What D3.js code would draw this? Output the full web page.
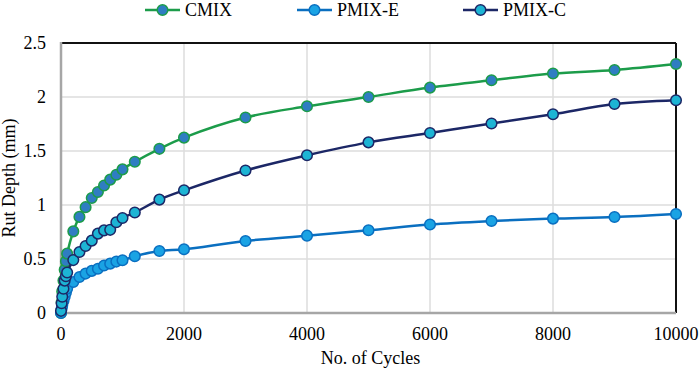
<!DOCTYPE html>
<html>
<head>
<meta charset="utf-8">
<script src="https://cdn.jsdelivr.net/npm/d3@7"></script>
<style>
  body { margin: 0; background: #fff; }
  text { font-family: "Liberation Serif", "Times New Roman", serif; fill: #000; }
</style>
</head>
<body>
<svg width="699" height="372"></svg>
<script>
// cycles at which rut depth was read
var cycles = [0, 10, 20, 40, 60, 80, 100, 200, 300, 400, 500, 600, 700, 800, 900, 1000,
              1200, 1600, 2000, 3000, 4000, 5000, 6000, 7000, 8000, 9000, 10000];

var cmix  = [0, 0.1, 0.2, 0.3, 0.4, 0.48, 0.55, 0.756, 0.89, 0.98, 1.065, 1.12, 1.18, 1.235, 1.28, 1.33,
             1.40, 1.52, 1.624, 1.81, 1.914, 2.0, 2.087, 2.155, 2.217, 2.25, 2.305];
var pmixE = [0, 0.04, 0.07, 0.11, 0.15, 0.19, 0.226, 0.287, 0.333, 0.365, 0.39, 0.41, 0.44, 0.457, 0.476, 0.488,
             0.525, 0.574, 0.59, 0.667, 0.716, 0.766, 0.82, 0.852, 0.874, 0.889, 0.917];
var pmixC = [0.02, 0.09, 0.15, 0.225, 0.30, 0.34, 0.375, 0.49, 0.565, 0.62, 0.67, 0.735, 0.765, 0.77, 0.84, 0.88,
             0.93, 1.05, 1.136, 1.32, 1.46, 1.58, 1.667, 1.754, 1.84, 1.935, 1.97];

var xTicks = [0, 2000, 4000, 6000, 8000, 10000];
var yTicks = [0, 0.5, 1, 1.5, 2, 2.5];

var series = [
  { name: "CMIX",   values: cmix,  line: "#1c9c4a", fill: "#2f7dc2" },
  { name: "PMIX-E", values: pmixE, line: "#0a6fc0", fill: "#1aa3e4" },
  { name: "PMIX-C", values: pmixC, line: "#1c2766", fill: "#1db4d4" }
];

var svg = d3.select("svg"),
    pLeft = 61, pRight = 676, pTop = 43, pBottom = 313;

var x = d3.scaleLinear().domain([0, 10000]).range([pLeft, pRight]);
var y = d3.scaleLinear().domain([0, 2.5]).range([pBottom, pTop]);

var g = svg.append("g");

// grid
g.selectAll(".hgrid").data(yTicks.slice(1, -1)).enter().append("line")
  .attr("x1", pLeft).attr("x2", pRight)
  .attr("y1", d => y(d)).attr("y2", d => y(d))
  .attr("stroke", "#dcdcdc").attr("stroke-width", 1.5);
g.selectAll(".vgrid").data(xTicks.slice(1, -1)).enter().append("line")
  .attr("y1", pTop).attr("y2", pBottom)
  .attr("x1", d => x(d)).attr("x2", d => x(d))
  .attr("stroke", "#dcdcdc").attr("stroke-width", 1.5);

// frame: black top/right, gray axes left/bottom
g.append("line").attr("x1", pLeft).attr("x2", pRight).attr("y1", pTop).attr("y2", pTop)
  .attr("stroke", "#111").attr("stroke-width", 2);
g.append("line").attr("x1", pRight).attr("x2", pRight).attr("y1", pTop).attr("y2", pBottom)
  .attr("stroke", "#111").attr("stroke-width", 2);
g.append("line").attr("x1", pLeft).attr("x2", pLeft).attr("y1", pTop - 1).attr("y2", pBottom)
  .attr("stroke", "#a6a6a6").attr("stroke-width", 2.5);
g.append("line").attr("x1", pLeft).attr("x2", pRight).attr("y1", pBottom).attr("y2", pBottom)
  .attr("stroke", "#a6a6a6").attr("stroke-width", 2.5);

// tick labels
g.selectAll(".ylab").data(yTicks).enter().append("text")
  .attr("x", 46).attr("y", d => y(d)).attr("dy", "0.35em")
  .attr("text-anchor", "end").attr("font-size", 18)
  .text(d => d);
g.selectAll(".xlab").data(xTicks).enter().append("text")
  .attr("x", d => x(d)).attr("y", 340)
  .attr("text-anchor", "middle").attr("font-size", 18)
  .text(d => d);

// axis titles
g.append("text").attr("x", (pLeft + pRight) / 2 + 2).attr("y", 364)
  .attr("text-anchor", "middle").attr("font-size", 18).text("No. of Cycles");
g.append("text").attr("transform", "translate(15," + ((pTop + pBottom) / 2) + ") rotate(-90)")
  .attr("text-anchor", "middle").attr("font-size", 18).text("Rut Depth (mm)");

// lines and markers
var line = d3.line()
  .x((d, i) => x(cycles[i]))
  .y(d => y(d))
  .curve(d3.curveCatmullRom.alpha(0.5));

series.forEach(function (s) {
  g.append("path").datum(s.values)
    .attr("d", line).attr("fill", "none")
    .attr("stroke", s.line).attr("stroke-width", 2.5);
  g.selectAll(".pt-" + s.name).data(s.values).enter().append("circle")
    .attr("cx", (d, i) => x(cycles[i])).attr("cy", d => y(d))
    .attr("r", 5.3)
    .attr("fill", s.fill).attr("stroke", s.line).attr("stroke-width", 1.5);
});

// legend
var legendX = [145, 297, 463];
var lg = svg.selectAll(".legend").data(series).enter().append("g")
  .attr("transform", (d, i) => "translate(" + legendX[i] + ",10)");
lg.append("line").attr("x1", 0).attr("x2", 35).attr("y1", 0).attr("y2", 0)
  .attr("stroke", d => d.line).attr("stroke-width", 2.5);
lg.append("circle").attr("cx", 17.5).attr("cy", 0).attr("r", 5.3)
  .attr("fill", d => d.fill).attr("stroke", d => d.line).attr("stroke-width", 1.5);
lg.append("text").attr("x", 40).attr("y", 0).attr("dy", "0.33em")
  .attr("font-size", 18).text(d => d.name);
</script>
</body>
</html>
